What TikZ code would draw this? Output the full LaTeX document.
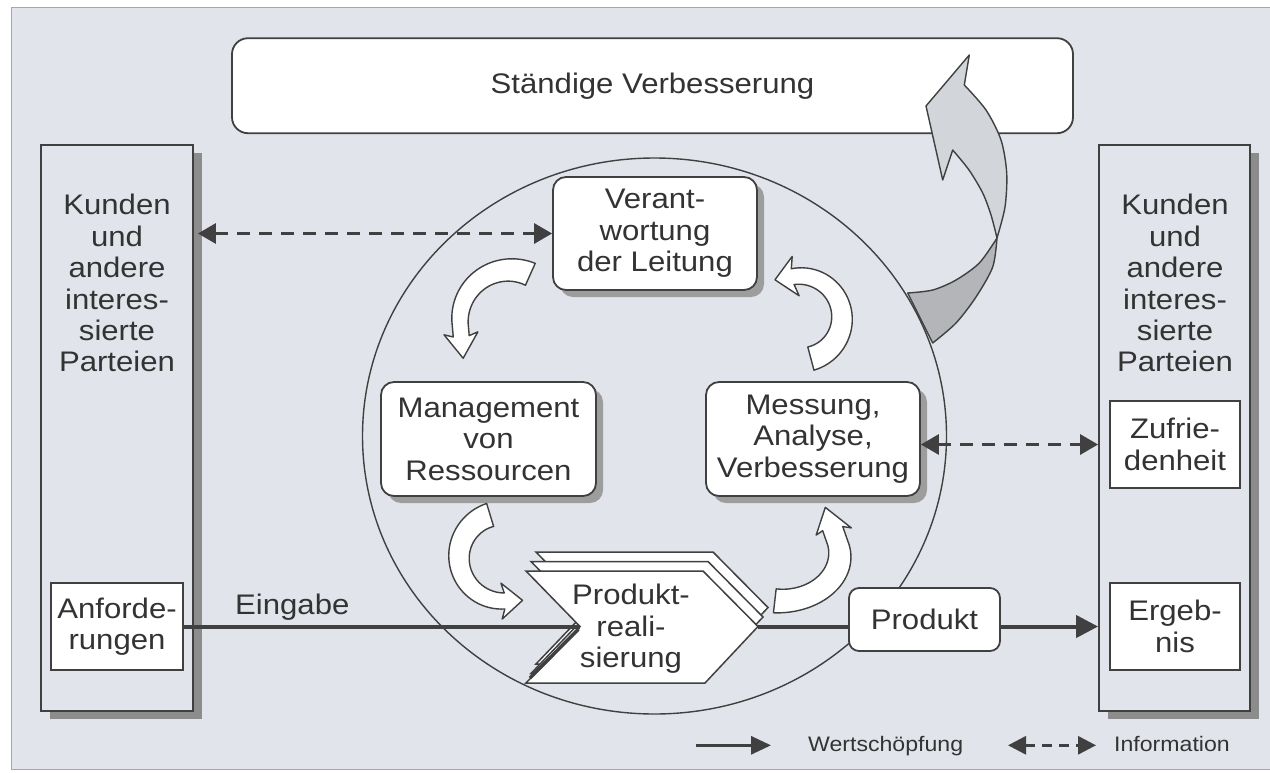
\documentclass[tikz,border=0pt]{standalone}
\usepackage{fontspec}
\setmainfont{Liberation Sans}[FakeStretch=1.1]
\usetikzlibrary{arrows.meta,shapes.geometric,shadows,calc}
\definecolor{bg}{HTML}{E1E5EB}
\definecolor{ln}{HTML}{404040}
\definecolor{tx}{HTML}{333333}
\definecolor{shd}{HTML}{8C8C8C}
\definecolor{bandl}{HTML}{D2D5D9}
\definecolor{bandd}{HTML}{B3B5B8}
\newcommand\bfnt{\fontsize{28.3}{31.4}\selectfont}
\newcommand\lfnt{\fontsize{21}{24}\selectfont}
\newcommand\bah{17}
\newcommand\bal{22}
\newcommand\bab{3}
% curved block arrow: cx, cy, r, a1, a2, w1, w2, ext
\newcommand\bandarrow[8]{%
  \pgfmathsetmacro\bdir{sign((#5)-(#4))}%
  \pgfmathsetmacro\bmx{(#1)+(#3)*cos(#5)}%
  \pgfmathsetmacro\bmy{(#2)+(#3)*sin(#5)}%
  \pgfmathsetmacro\btx{(-1)*(\bdir)*sin(#5)}%
  \pgfmathsetmacro\bty{(\bdir)*cos(#5)}%
  \pgfmathsetmacro\bnx{cos(#5)}%
  \pgfmathsetmacro\bny{sin(#5)}%
  \pgfmathsetmacro\bex{\bmx+(#8)*(\btx)}%
  \pgfmathsetmacro\bey{\bmy+(#8)*(\bty)}%
  \draw[band] plot[domain=0:1,samples=40] ({(#1)+((#3)+(#6)+((#7)-(#6))*\x)*cos((#4)+((#5)-(#4))*\x)},{(#2)+((#3)+(#6)+((#7)-(#6))*\x)*sin((#4)+((#5)-(#4))*\x)})
   -- ({\bex+(#7)*(\bnx)},{\bey+(#7)*(\bny)})
   -- ({\bex+\bah*(\bnx)-\bab*(\btx)},{\bey+\bah*(\bny)-\bab*(\bty)})
   -- ({\bex+\bal*(\btx)},{\bey+\bal*(\bty)})
   -- ({\bex-\bah*(\bnx)-\bab*(\btx)},{\bey-\bah*(\bny)-\bab*(\bty)})
   -- ({\bex-(#7)*(\bnx)},{\bey-(#7)*(\bny)})
   -- plot[domain=0:1,samples=40] ({(#1)+((#3)-(#7)-((#6)-(#7))*\x)*cos((#5)+((#4)-(#5))*\x)},{(#2)+((#3)-(#7)-((#6)-(#7))*\x)*sin((#5)+((#4)-(#5))*\x)})
   -- cycle;
}
\begin{document}
\begin{tikzpicture}[x=1pt,y=-1pt,
  txt/.style={text=tx, font=\bfnt, align=center, inner sep=0pt},
  sbox/.style={txt, draw=ln, line width=1.8pt, fill=white},
  rbox/.style={sbox, rounded corners=13pt, drop shadow={shadow xshift=7pt, shadow yshift=-7pt, fill=shd!85, opacity=1}},
  tall/.style={draw=ln, line width=1.8pt, fill=bg, drop shadow={shadow xshift=8.5pt, shadow yshift=-8pt, fill=shd, opacity=1}},
  flow/.style={draw=ln, line width=4pt},
  info/.style={draw=ln, line width=3pt, dash pattern=on 13pt off 9pt, arrows={Triangle[length=18pt,width=20pt]-Triangle[length=18pt,width=20pt]}},
  band/.style={draw=ln, line width=1.4pt, fill=white, line join=round},
  chev/.style={fill=white, draw=ln, line width=1.5pt, line join=miter},
  legtxt/.style={text=tx, font=\lfnt, inner sep=0pt}]
\useasboundingbox (0,0) rectangle (1270,772);
\fill[white] (0,0) rectangle (1270,772);
\filldraw[fill=bg, draw=gray!70, line width=1pt] (11,7.5) rectangle (1290,769.5);

% top box
\node[sbox, rounded corners=16pt, minimum width=841pt, minimum height=95pt] (sv) at (652.5,85.7) {Ständige Verbesserung};

% process circle
\node[draw=ln, line width=1.4pt, ellipse, minimum width=584pt, minimum height=556pt, inner sep=0pt] (proc) at (654.5,436) {};

% big improvement arrow
\filldraw[fill=bandl, draw=ln, line width=1.4pt, line join=round]
  (969.3,55) -- (926,106) -- (942.7,180) -- (952.7,150)
  -- plot[smooth] coordinates {(952.7,150) (969,170) (982.7,193) (991,215) (997,238)}
  -- plot[smooth] coordinates {(997,238) (1005,207) (1006.7,173) (1001,140) (986,110) (964.3,85)}
  -- cycle;
\filldraw[fill=bandd, draw=ln, line width=1.4pt, line join=round]
  plot[smooth] coordinates {(997,238) (992.7,267) (976,297) (956,323) (932.7,343)}
  -- (907.7,293)
  -- plot[smooth] coordinates {(907.7,293) (932.7,290) (956,280) (979.3,263) (997,238)}
  -- cycle;

% customer boxes
\node[tall, minimum width=152pt, minimum height=566pt] (lbox) at (117,428) {};
\node[tall, minimum width=151pt, minimum height=566pt] (rbox) at (1174.5,428) {};
\node[txt] (lkund) at (117,283.2) {Kunden\\und\\andere\\interes-\\sierte\\Parteien};
\node[txt] (rkund) at (1175,283.2) {Kunden\\und\\andere\\interes-\\sierte\\Parteien};
\node[sbox, minimum width=132pt, minimum height=87pt] (anf) at (117,626.5) {Anforde-\\rungen};
\node[sbox, minimum width=130pt, minimum height=87pt] (zuf) at (1175,444.5) {Zufrie-\\denheit};
\node[sbox, minimum width=130pt, minimum height=87pt] (erg) at (1175,626.5) {Ergeb-\\nis};

% process boxes
\node[rbox, minimum width=204pt, minimum height=113pt] (verant) at (655,233.5) {Verant-\\wortung\\der Leitung};
\node[rbox, minimum width=215pt, minimum height=114pt] (mgmt) at (488.5,439) {Management\\von\\Ressourcen};
\node[rbox, minimum width=214pt, minimum height=114pt] (mess) at (813,439) {Messung,\\Analyse,\\Verbesserung};

% product realisation (stacked chevron)
\foreach \k in {2,1}{
  \filldraw[chev, shift={(5*\k,-9.5*\k)}]
    (526,571) -- (703,571) -- (758,626.5) -- (705,683) -- (526,683) -- (580,626.5) -- cycle;
}
\coordinate (F1) at (526,571);
\coordinate (F2) at (703,571);
\coordinate (chevR) at (758,626.5);
\coordinate (F4) at (705,683);
\coordinate (F5) at (526,683);
\coordinate (notch) at (580,626.5);
\filldraw[chev] (F1) -- (F2) -- (chevR) -- (F4) -- (F5) -- (notch) -- cycle;
\draw[ln, line width=3.5pt] ($(notch)+(-1.5,2.5)$) -- ($(F5)+(4,-5)$);
\node[txt] (prtext) at (631,629) {Produkt-\\reali-\\sierung};

% cycle arrows
\bandarrow{510}{320}{50}{-66}{-185}{12}{8}{12}
\renewcommand\bah{20}\renewcommand\bal{18}
\bandarrow{800}{318}{42}{75}{-100}{12}{8}{0}
\renewcommand\bah{18}\renewcommand\bal{18}
\bandarrow{503}{557}{44}{253}{88}{12}{8}{0}
\renewcommand\bah{14}\renewcommand\bal{22}
\begin{scope}[shift={(780,555)}, xscale=1.3]
\bandarrow{0}{0}{46}{95}{-15}{12}{8}{15}
\end{scope}

% flows
\node[sbox, rounded corners=10pt, minimum width=151pt, minimum height=63pt] (produkt) at (924.5,619.5) {Produkt};
\draw[flow] (anf.east) -- (notch);
\node[txt, anchor=base west] (eing) at (235,614.3) {Eingabe};
\draw[flow] (chevR) -- (produkt.west |- chevR);
\draw[flow, -{Triangle[length=22pt,width=22pt]}] (produkt.east |- chevR) -- (rbox.west |- chevR);

% information arrows
\draw[info] ([xshift=4pt]lbox.east |- verant.west) -- (verant.west);
\draw[info] (mess.east |- zuf.west) -- (rbox.west |- zuf.west);

% legend
\coordinate (l1a) at (696,745.3);
\coordinate (l1b) at (771,745.3);
\draw[ln, line width=3pt, -{Triangle[length=20pt,width=18pt]}] (l1a) -- (l1b);
\node[legtxt, anchor=base west] (l1t) at (808,751) {Wertschöpfung};
\coordinate (l2a) at (1008,745.3);
\coordinate (l2b) at (1096,745.3);
\draw[ln, line width=3pt, dash pattern=on 10pt off 7pt, arrows={Triangle[length=18pt,width=18pt]-Triangle[length=18pt,width=18pt]}] (l2a) -- (l2b);
\node[legtxt, anchor=base west] (l2t) at (1114,751) {Information};
\end{tikzpicture}
\end{document}
